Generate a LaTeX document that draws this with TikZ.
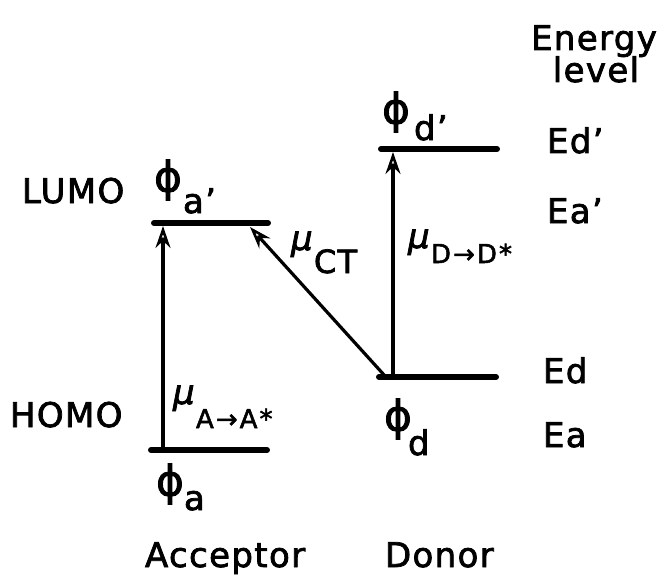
\documentclass[tikz,border=0pt]{standalone}
\usepackage{fontspec}
\setmainfont[FakeBold=2.2]{DejaVu Sans}
\newfontfamily\widef[LetterSpace=4, FakeBold=2.2]{DejaVu Sans}
\newfontfamily\subfam[LetterSpace=8, FakeBold=2]{DejaVu Sans}
\usetikzlibrary{arrows.meta}
\newcommand\bigf{\fontsize{34}{36}\selectfont}
\newcommand\subf{\subfam\fontsize{26}{27}\selectfont}
\newcommand\phif{\fontsize{42}{44}\selectfont}
\newcommand\ctf{\fontsize{32}{34}\selectfont}
\tikzset{
  lvl/.style={line width=6pt, line cap=round},
  arr/.style={line width=3.2pt, -{Stealth[open, length=22pt, width=15pt, line width=2.6pt]}},
  lab/.style={inner sep=0pt, outer sep=0pt, font=\widef\bigf},
  phil/.style={inner sep=0pt, outer sep=0pt, font=\widef\phif},
}
\begin{document}
\begin{tikzpicture}[x=1pt, y=-1pt]
\useasboundingbox (0,0) rectangle (665,578);
% level end points
\coordinate (aLl) at (151,450); \coordinate (aLr) at (267,450);
\coordinate (aHl) at (154,223); \coordinate (aHr) at (268,223);
\coordinate (dLl) at (379,377); \coordinate (dLr) at (496,377);
\coordinate (dHl) at (381,149); \coordinate (dHr) at (497,149);
% arrow end points
\coordinate (aS) at (163,450); \coordinate (aE) at (163,226);
\coordinate (dS) at (393,377); \coordinate (dE) at (393,152);
\coordinate (cS) at (385,376); \coordinate (cE) at (250,227);
% levels
\draw[lvl] (aLl) -- (aLr);
\draw[lvl] (aHl) -- (aHr);
\draw[lvl] (dLl) -- (dLr);
\draw[lvl] (dHl) -- (dHr);
% transitions
\draw[arr] (aS) -- (aE);
\draw[arr] (dS) -- (dE);
\draw[arr] (cS) -- (cE);
% phi labels
\node[phil] (pa1) at (168,180) {ϕ};
\node[lab, anchor=base west] (pa1s) at (183,213) {a’};
\node[phil] (pa0) at (170,484) {ϕ};
\node[lab, anchor=base west] (pa0s) at (184,510) {a};
\node[phil] (pd1) at (396,112) {ϕ};
\node[lab, anchor=base west] (pd1s) at (414,140) {d’};
\node[phil] (pd0) at (398,419) {ϕ};
\node[lab, anchor=base west] (pd0s) at (408,455) {d};
% mu labels
\node[lab, anchor=base west] (muA) at (173,404) {\textit{μ}\raisebox{-24pt}{\subf A→A*}};
\node[lab, anchor=base west] (muCT) at (291,250) {\textit{μ}\raisebox{-23pt}{\ctf CT}};
\node[lab, anchor=base west] (muD) at (408,248) {\textit{μ}\raisebox{-15pt}{\subf D→D*}};
% side labels
\node[lab, anchor=base west] (lumo) at (22,203) {LUMO};
\node[lab, anchor=base west] (homo) at (10,427) {HOMO};
\node[lab, anchor=base west] (acc) at (145,567) {Acceptor};
\node[lab, anchor=base west] (don) at (385,567) {Donor};
% energy column
\node[lab, anchor=base] (en1) at (594,50) {Energy};
\node[lab, anchor=base] (en2) at (596,82) {level};
\node[lab, anchor=base west] (Ed1) at (547,153) {Ed’};
\node[lab, anchor=base west] (Ea1) at (547,223) {Ea’};
\node[lab, anchor=base west] (Ed0) at (543,383) {Ed};
\node[lab, anchor=base west] (Ea0) at (543,447) {Ea};
\end{tikzpicture}
\end{document}
